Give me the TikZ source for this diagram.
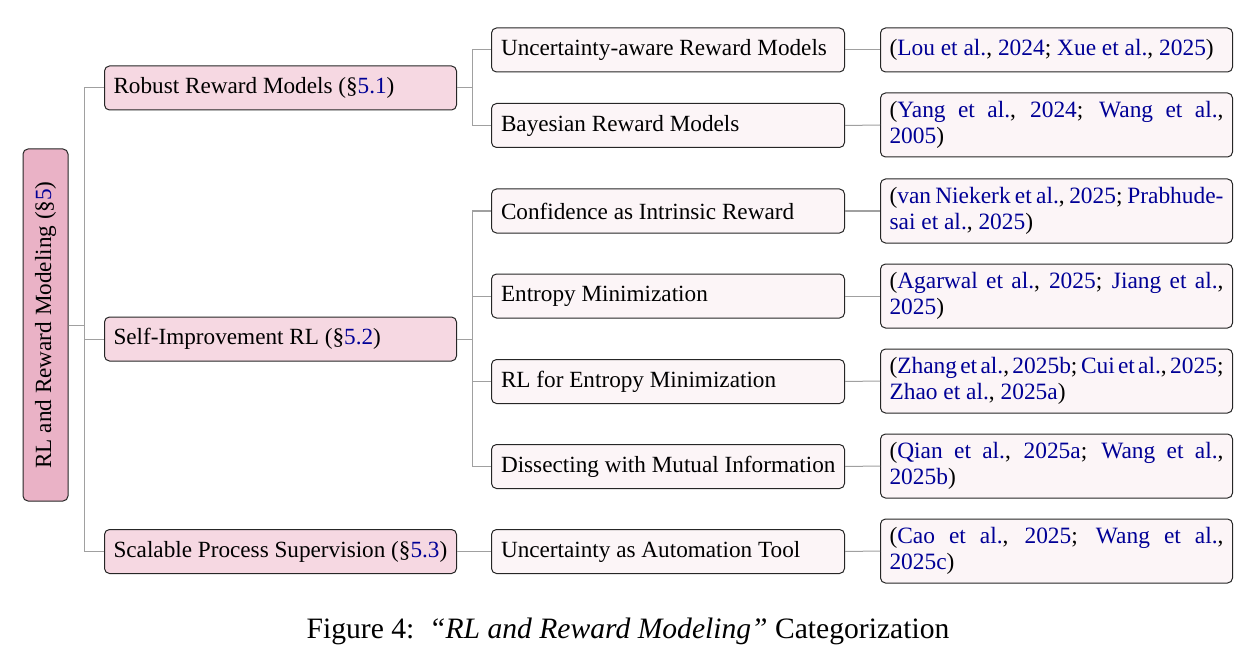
\documentclass[tikz,border=0pt]{standalone}
\usepackage{fontspec}
\setmainfont{Liberation Serif}
\usetikzlibrary{positioning}
\definecolor{rootfill}{RGB}{234,178,198}
\definecolor{midfill}{RGB}{246,216,226}
\definecolor{leaffill}{RGB}{252,245,247}
\definecolor{linkblue}{RGB}{0,0,150}
\definecolor{edgegray}{RGB}{160,160,160}
\newcommand{\lk}[1]{\textcolor{linkblue}{#1}}
\newcommand{\lb}[1]{\makebox[167pt][l]{#1}}
\newcommand{\reffont}{\fontsize{11.7pt}{13.2pt}\selectfont\spaceskip=0.25em plus 0.25em minus 0.1em\relax}
\tikzset{
  basebox/.style={draw=black!85, line width=0.5pt, rounded corners=2.5pt, anchor=west,
    font=\fontsize{11.6pt}{13.2pt}\selectfont, inner xsep=4.5pt, inner ysep=2pt},
  rootbox/.style={basebox, fill=rootfill, anchor=center, rotate=90, minimum width=176pt, minimum height=22.5pt, align=center},
  catbox/.style={basebox, fill=midfill, minimum width=176pt, minimum height=22pt},
  subbox/.style={basebox, fill=leaffill, minimum width=176.5pt, minimum height=22pt},
  refbox/.style={basebox, font=\reffont, fill=leaffill, minimum width=176pt, minimum height=22pt, text width=167pt, align=justify},
  refbox2/.style={refbox, minimum height=32pt},
  edge/.style={draw=edgegray, line width=0.5pt}
}
\begin{document}
\begin{tikzpicture}[x=0.5pt, y=-0.5pt]
\useasboundingbox (0,0) rectangle (1256,663);
% root
\node[rootbox] (root) at (45.5,325) {RL and Reward Modeling (§\lk{5})};
% level 1
\node[catbox] (robust) at (104,88) {\lb{Robust Reward Models (§\lk{5.1})}};
\node[catbox] (self) at (104,339) {\lb{Self-Improvement RL (§\lk{5.2})}};
\node[catbox] (scal) at (104,551.5) {\lb{Scalable Process Supervision (§\lk{5.3})}};
% level 2
\node[subbox] (ua) at (491,50) {\lb{Uncertainty-aware Reward Models}};
\node[subbox] (bay) at (491,125.5) {\lb{Bayesian Reward Models}};
\node[subbox] (conf) at (491,211) {\lb{Confidence as Intrinsic Reward}};
\node[subbox] (ent) at (491,296) {\lb{Entropy Minimization}};
\node[subbox] (rlent) at (491,381.5) {\lb{RL for Entropy Minimization}};
\node[subbox] (diss) at (491,466.5) {\lb{Dissecting with Mutual Information}};
\node[subbox] (auto) at (491,551.5) {\lb{Uncertainty as Automation Tool}};
% leaves
\node[refbox] (r1) at (880,50) {(\lk{Lou et al.}, \lk{2024}; \lk{Xue et al.}, \lk{2025})};
\node[refbox2] (r2) at (880,125) {(\lk{Yang et al.}, \lk{2024}; \lk{Wang et al.}, \lk{2005})};
\node[refbox2] (r3) at (880,211) {(\lk{van Niekerk et al.}, \lk{2025}; \lk{Prabhude\-sai et al.}, \lk{2025})};
\node[refbox2] (r4) at (880,296) {(\lk{Agarwal et al.}, \lk{2025}; \lk{Jiang et al.}, \lk{2025})};
\node[refbox2] (r5) at (880,381) {\spaceskip=0.12em plus 0.1em minus 0.05em\relax(\lk{Zhang et al.}, \lk{2025b}; \lk{Cui et al.}, \lk{2025};\linebreak\spaceskip=0.25em\relax \lk{Zhao et al.}, \lk{2025a})};
\node[refbox2] (r6) at (880,466) {(\lk{Qian et al.}, \lk{2025a}; \lk{Wang et al.}, \lk{2025b})};
\node[refbox2] (r7) at (880,551) {(\lk{Cao et al.}, \lk{2025}; \lk{Wang et al.}, \lk{2025c})};
% edges
\foreach \c in {robust,self,scal}
  \draw[edge] (root.south) -- ++(16,0) |- (\c.west);
\foreach \c in {ua,bay}
  \draw[edge] (robust.east) -- ++(15,0) |- (\c.west);
\foreach \c in {conf,ent,rlent,diss}
  \draw[edge] (self.east) -- ++(15,0) |- (\c.west);
\draw[edge] (scal.east) -- (auto.west);
\draw[edge] (ua.east) -- (r1.west);
\draw[edge] (bay.east) -- (r2.west);
\draw[edge] (conf.east) -- (r3.west);
\draw[edge] (ent.east) -- (r4.west);
\draw[edge] (rlent.east) -- (r5.west);
\draw[edge] (diss.east) -- (r6.west);
\draw[edge] (auto.east) -- (r7.west);
% caption
\node[font=\fontsize{14.8pt}{17pt}\selectfont, anchor=center] (cap) at (628,631) {Figure 4:\ \ \textit{``RL and Reward Modeling''} Categorization};
\end{tikzpicture}
\end{document}
